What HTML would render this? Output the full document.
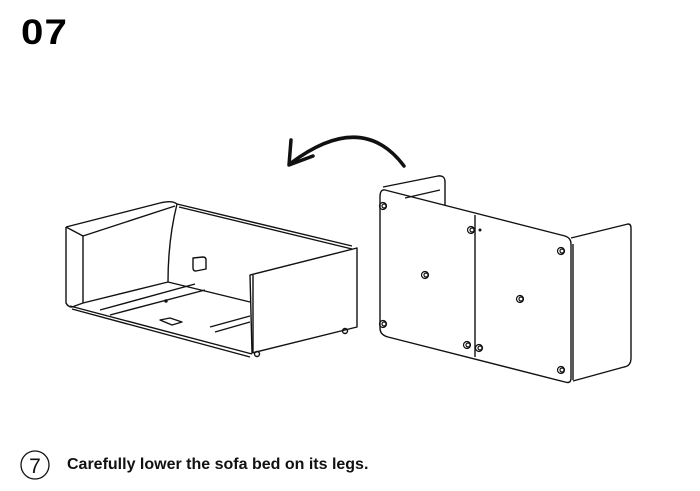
<!DOCTYPE html>
<html><head><style>
body{margin:0;width:700px;height:491px;background:#fff;overflow:hidden;position:relative;font-family:"Liberation Sans",sans-serif}
.t{position:absolute;left:21px;top:13px;font-size:35px;font-weight:bold;letter-spacing:1px;color:#000;transform:scaleX(1.15);transform-origin:left}
.c{position:absolute;left:67px;top:456px;font-size:16px;font-weight:bold;color:#111}
</style></head><body>
<div class="t">07</div>
<svg width="700" height="491" style="position:absolute;left:0;top:0" fill="none" stroke="#111" stroke-width="1.4" stroke-linejoin="round">
<!-- arrow -->
<path d="M404 166 Q362 110 291 163" stroke-width="3.5" stroke-linecap="round"/>
<path d="M291 140 L289 165 L313 156" stroke-width="3.5" stroke-linecap="round"/>
<!-- left sofa -->
<path d="M66 227 L160 203 Q172 200 177 204 L352 246"/>
<path d="M179 207 L352 249"/>
<path d="M66 227 L83 236 L175 206"/>
<path d="M66 227 L66 303 Q68 307 72 307 L83 303 L83 236"/>
<path d="M177 204 Q168 240 168 282"/>
<path d="M83 303 L168 282 L250 302"/>
<path d="M70 306 L252 354"/>
<path d="M72 309 L250 357"/>
<path d="M100 310 L195 284 M110 315 L205 290 M210 327 L250 316 M215 332 L250 322"/>
<path d="M160 320 L170 318 L182 322 L172 325 Z"/>
<path d="M193 258 L203 257 Q206 257 206 260 L206 269 L196 271 Q193 271 193 268 Z"/>
<path d="M250 275 L357 248 L357 327 L252 353 Z"/>
<path d="M253 275 L253 353"/>
<circle cx="166" cy="301" r="1" fill="#111"/>
<circle cx="257" cy="354" r="2.5"/><circle cx="345" cy="331" r="2.5"/>
<!-- right panel -->
<path d="M383 187 L438 176 Q445 175 445 182 L445 205"/>
<path d="M405 198 L440 190"/>
<path d="M385 190 L565 236 Q571 238 571 244 L571 378 Q571 384 565 382 L388 337 Q380 335 380 328 L380 197 Q380 189 385 190 Z"/>
<path d="M573 244 L573 380"/>
<path d="M571 238 L628 224 Q631 224 631 228 L631 358 Q631 366 624 367 L573 381"/>
<path d="M475 215 L475 357"/>
<g stroke-width="1.2">
<circle cx="383" cy="206" r="3.5"/><circle cx="384" cy="206" r="2"/>
<circle cx="383" cy="324" r="3.5"/><circle cx="384" cy="324" r="2"/>
<circle cx="425" cy="275" r="3.5"/><circle cx="426" cy="275" r="2"/>
<circle cx="471" cy="230" r="3.5"/><circle cx="472" cy="230" r="2"/>
<circle cx="467" cy="345" r="3.5"/><circle cx="468" cy="345" r="2"/>
<circle cx="479" cy="348" r="3.5"/><circle cx="480" cy="348" r="2"/>
<circle cx="520" cy="299" r="3.5"/><circle cx="521" cy="299" r="2"/>
<circle cx="561" cy="251" r="3.5"/><circle cx="562" cy="251" r="2"/>
<circle cx="561" cy="370" r="3.5"/><circle cx="562" cy="370" r="2"/>
</g>
<circle cx="480" cy="230" r="0.8" fill="#111"/>
<!-- step circle -->
<circle cx="35" cy="465" r="14" stroke-width="1.3"/>
<text x="35" y="473" font-family="Liberation Sans, sans-serif" font-size="21" fill="#111" stroke="none" text-anchor="middle">7</text>
</svg>
<div class="c">Carefully lower the sofa bed on its legs.</div>
</body></html>
